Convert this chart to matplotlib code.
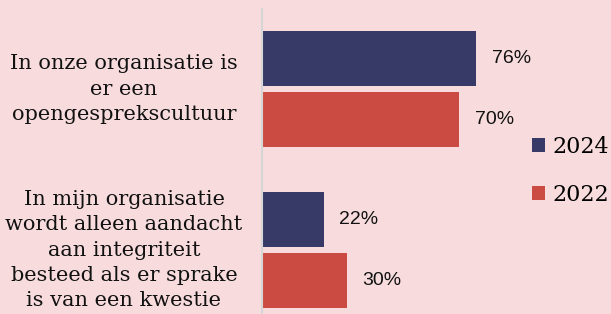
import matplotlib
matplotlib.use("Agg")
import matplotlib.pyplot as plt
import numpy as np

# data
categories = ["In onze organisatie is\ner een\nopengesprekscultuur",
              "In mijn organisatie\nwordt alleen aandacht\naan integriteit\nbesteed als er sprake\nis van een kwestie"]
series_names = ["2024", "2022"]
vals_2024 = [76, 22]
vals_2022 = [70, 30]

bg = "#f8dcdd"
navy = "#373a66"
red = "#cb4b42"

W, H = 611, 314
fig = plt.figure(figsize=(W / 100, H / 100), dpi=100, facecolor=bg)
# axes: left edge at x=262px, 100% at 544px, top at 9px
ax = fig.add_axes([262 / W, 0, 282 / W, (H - 9) / H])
ax.set_facecolor(bg)
ax.patch.set_alpha(0)

y = np.arange(len(categories))
bh = 0.34
off = 0.188
b1 = ax.barh(y - off, vals_2024, height=bh, color=navy, label=series_names[0])
b2 = ax.barh(y + off, vals_2022, height=bh, color=red, label=series_names[1])

for bars in (b1, b2):
    ax.bar_label(bars, fmt="%d%%", padding=11, fontsize=14,
                 family="Liberation Sans", color="#111111")

ax.set_xlim(0, 100)
ax.set_ylim(1.397, -0.497)
ax.set_xticks([])
ax.set_yticks([])
for s in ["top", "right", "bottom"]:
    ax.spines[s].set_visible(False)
ax.spines["left"].set_color("#d6d6d6")
ax.spines["left"].set_linewidth(1.5)

# category labels, centred at x=124px
for yi, lab in zip(y, categories):
    ax.text(-(262 - 124) / 282 * 100, yi, lab, ha="center", va="center",
            multialignment="center", fontsize=15, family="DejaVu Serif",
            color="#111111", linespacing=1.42, clip_on=False)

fig.legend(handles=[b1, b2], labels=series_names, loc="upper left",
           bbox_to_anchor=(532 / W, 1 - 136 / H), frameon=False,
           prop={"family": "DejaVu Serif", "size": 16},
           handlelength=0.6, handleheight=0.6, handletextpad=0.3,
           labelspacing=1.15, borderpad=0, borderaxespad=0)

fig.savefig("out.png", dpi=100, facecolor=bg)
